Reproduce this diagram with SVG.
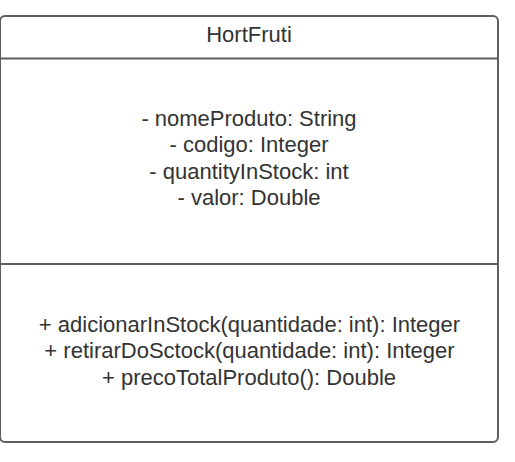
<svg xmlns="http://www.w3.org/2000/svg" width="515" height="462" viewBox="0 0 515 462">
<style>
.t{font-family:"Liberation Sans",Arial,sans-serif;font-size:22px;fill:#333333;text-anchor:middle}
.ln{stroke:#5e5e5e;stroke-width:2;fill:none}
</style>
<rect width="515" height="462" fill="#ffffff"/>
<g id="HortFruti">
<rect class="ln" x="0" y="16" width="498" height="426" rx="5" ry="5" fill="#ffffff"/>
<line class="ln" x1="0" y1="58.5" x2="498" y2="58.5"/>
<line class="ln" x1="0" y1="264" x2="498" y2="264"/>
<text class="t" x="249" y="41.5">HortFruti</text>
<text class="t" x="249" y="125.5">- nomeProduto: String</text>
<text class="t" x="249" y="152">- codigo: Integer</text>
<text class="t" x="249" y="178.5">- quantityInStock: int</text>
<text class="t" x="249" y="205">- valor: Double</text>
<text class="t" x="249.5" y="331.5">+ adicionarInStock(quantidade: int): Integer</text>
<text class="t" x="249.5" y="358">+ retirarDoSctock(quantidade: int): Integer</text>
<text class="t" x="249" y="384.5">+ precoTotalProduto(): Double</text>
</g>
<g id="connectors"></g>
</svg>
